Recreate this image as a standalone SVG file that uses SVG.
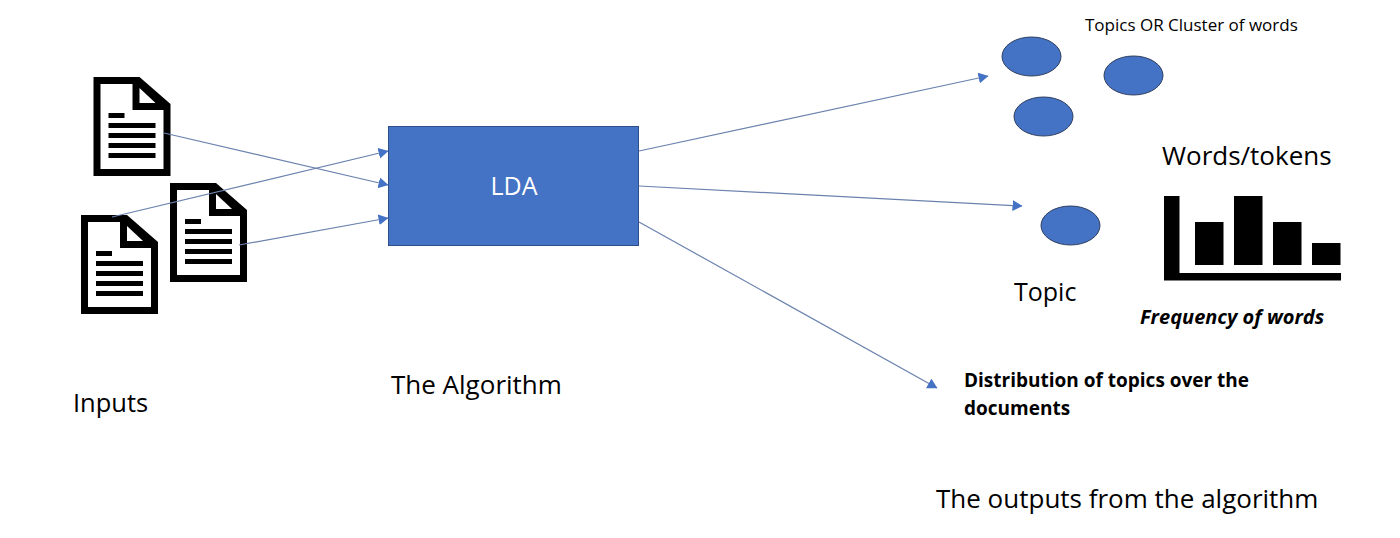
<svg xmlns="http://www.w3.org/2000/svg" width="1400" height="538" viewBox="0 0 1400 538">
<style>
text{font-family:"Open Sans","Noto Sans","Liberation Sans",sans-serif;fill:#000}
.conn{stroke:#6a82ad;stroke-width:1.2;fill:none;marker-end:url(#arrow)}
.topic{fill:#4472c4;stroke:#2f3f5f;stroke-width:1}
.t26{font-size:26px}
.b{font-weight:700;font-size:19px}
</style>
<defs>
<marker id="arrow" markerUnits="userSpaceOnUse" markerWidth="10" markerHeight="12" refX="9.5" refY="5.5" orient="auto"><path d="M0 0L10 5.5L0 11Z" fill="#4472c4"/></marker>
<g id="doc">
<path d="M0 0H46L77 27V99H0Z" fill="#000"/>
<path d="M7 7H39V33H70V92H7Z" fill="#fff"/>
<path d="M46 11L62 26H46Z" fill="#fff"/>
<path d="M15 36h16v5h-16zM15 46h47v5h-47zM15 56h47v5h-47zM15 66h47v5h-47zM15 76h47v5h-47z" fill="#000"/>
</g>
</defs>
<rect width="1400" height="538" fill="#fff"/>
<g id="doc-1"><use href="#doc" x="93.500" y="77"/></g>
<g id="doc-2"><use href="#doc" x="170" y="183"/></g>
<g id="doc-3"><use href="#doc" x="81" y="215"/></g>
<g id="lda"><rect x="388.500" y="126.500" width="250" height="119" fill="#4472c4" stroke="#2f4f8a" stroke-width="1"/><text x="514" y="195" font-size="25" text-anchor="middle" style="fill:#fff">LDA</text></g>
<g id="topic-cluster">
<ellipse class="topic" cx="1031.500" cy="56.500" rx="29.500" ry="19.500"/>
<ellipse class="topic" cx="1133.500" cy="75.500" rx="29.500" ry="19.500"/>
<ellipse class="topic" cx="1043.500" cy="116.500" rx="29.500" ry="19.500"/>
</g>
<g id="topic-single"><ellipse class="topic" cx="1070.500" cy="225.500" rx="29.500" ry="19.500"/></g>
<g id="chart"><path d="M1164 196h15.500v77H1341v7.500H1164zM1195 222h28.500v43H1195zM1234 196h28.500v69H1234zM1273 222h28.500v43H1273zM1312 243h28.500v22H1312z" fill="#000"/></g>
<g id="connectors">
<path class="conn" d="M164 133L388 185"/>
<path class="conn" d="M112 217L388 151"/>
<path class="conn" d="M239 245L388 218"/>
<path class="conn" d="M639 151L988 76"/>
<path class="conn" d="M639 186L1022 206"/>
<path class="conn" d="M639 222L937 388"/>
</g>
<g id="labels">
<text class="t26" x="73" y="412" style="font-size:25.500px">Inputs</text>
<text class="t26" x="391" y="394">The Algorithm</text>
<text x="1085" y="31" font-size="17">Topics OR Cluster of words</text>
<text class="t26" x="1162" y="165">Words/tokens</text>
<text class="t26" x="1014" y="301" style="font-size:25px">Topic</text>
<text class="b" x="1140" y="324" font-style="italic" style="font-size:20px">Frequency of words</text>
<text class="b" x="964" y="387">Distribution of topics over the</text>
<text class="b" x="964" y="415">documents</text>
<text class="t26" x="936" y="508">The outputs from the algorithm</text>
</g>
</svg>
